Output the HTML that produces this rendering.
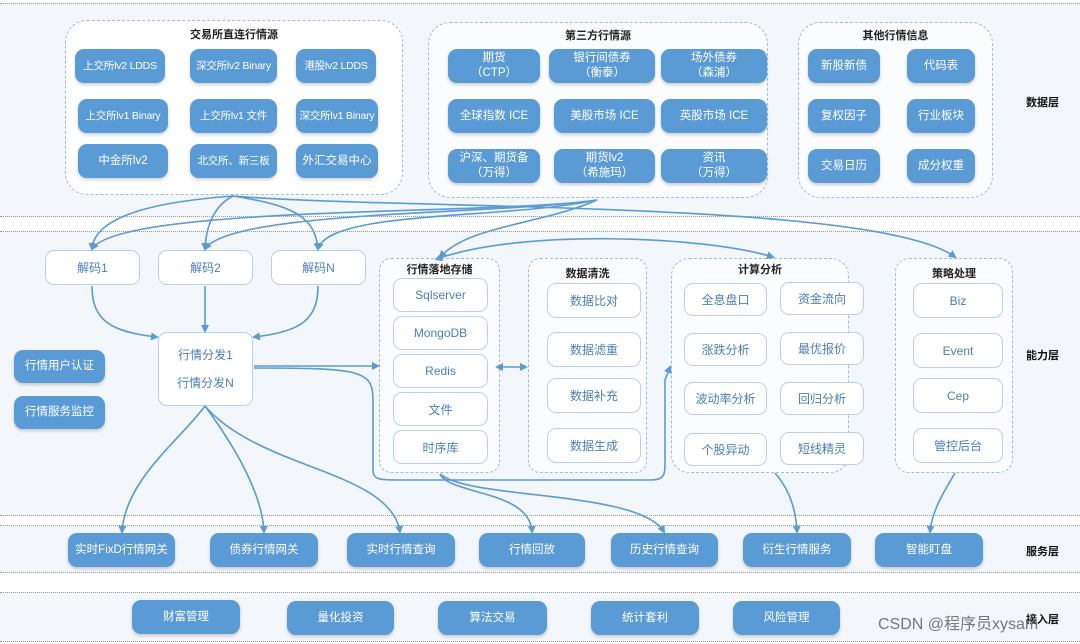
<!DOCTYPE html>
<html><head><meta charset="utf-8"><style>
*{margin:0;padding:0;box-sizing:border-box}
body{width:1080px;height:644px;position:relative;background:#fff;font-family:"Liberation Sans","Noto Sans CJK SC",sans-serif;overflow:hidden}
.band{position:absolute;left:0;width:1080px;background:#f3f6fb;border-top:1px dotted #999;border-bottom:1px dotted #999}
.grp{position:absolute;border:1.5px dashed #9dbbdc;border-radius:22px;background:#fbfcfe}
.gt{position:absolute;left:0;right:0;text-align:center;font-size:11px;font-weight:bold;color:#222}
.b{position:absolute;background:#5b9bd5;color:#fff;border-radius:9px;font-size:11.5px;display:flex;align-items:center;justify-content:center;text-align:center;line-height:15px;box-shadow:0 2px 3px rgba(0,0,0,.18);white-space:nowrap}
.sm{font-size:10.5px;letter-spacing:-0.2px}
.w{position:absolute;background:#fff;color:#4a7fb8;border:1.5px solid #b9d0ea;border-radius:9px;font-size:12px;display:flex;align-items:center;justify-content:center;text-align:center;white-space:nowrap}
.lab{position:absolute;font-size:11px;font-weight:bold;color:#111}
svg{position:absolute;left:0;top:0}
</style></head><body>
<div class="band" style="top:3px;height:214px"></div>
<div class="band" style="top:231px;height:285px"></div>
<div class="band" style="top:525px;height:48px"></div>
<div class="band" style="top:592px;height:50px"></div>
<div class="lab" style="left:1026px;top:94px">数据层</div>
<div class="lab" style="left:1026px;top:347px">能力层</div>
<div class="lab" style="left:1026px;top:543px">服务层</div>
<div class="lab" style="left:1026px;top:611px">接入层</div>

<div class="grp" style="left:65px;top:20px;width:338px;height:175px;background:#fff"><div class="gt" style="top:5px">交易所直连行情源</div></div>
<div class="grp" style="left:428px;top:22px;width:340px;height:176px"><div class="gt" style="top:4px">第三方行情源</div></div>
<div class="grp" style="left:798px;top:22px;width:195px;height:176px"><div class="gt" style="top:4px">其他行情信息</div></div>

<div class="b sm" style="left:75px;top:49px;width:90px;height:34px">上交所lv2 LDDS</div>
<div class="b sm" style="left:190px;top:49px;width:87px;height:34px">深交所lv2 Binary</div>
<div class="b sm" style="left:296px;top:49px;width:80px;height:34px">港股lv2 LDDS</div>
<div class="b sm" style="left:78px;top:99px;width:90px;height:34px">上交所lv1 Binary</div>
<div class="b sm" style="left:190px;top:99px;width:87px;height:34px">上交所lv1 文件</div>
<div class="b sm" style="left:296px;top:99px;width:82px;height:34px">深交所lv1 Binary</div>
<div class="b" style="left:78px;top:144px;width:90px;height:34px">中金所lv2</div>
<div class="b sm" style="left:190px;top:144px;width:87px;height:34px">北交所、新三板</div>
<div class="b" style="left:296px;top:144px;width:82px;height:34px">外汇交易中心</div>

<div class="b" style="left:448px;top:49px;width:92px;height:34px">期货<br>（CTP）</div>
<div class="b" style="left:549px;top:49px;width:106px;height:34px">银行间债券<br>（衡泰）</div>
<div class="b" style="left:661px;top:49px;width:106px;height:34px">场外债券<br>（森浦）</div>
<div class="b" style="left:448px;top:99px;width:92px;height:34px">全球指数 ICE</div>
<div class="b" style="left:554px;top:99px;width:101px;height:34px">美股市场 ICE</div>
<div class="b" style="left:661px;top:99px;width:106px;height:34px">英股市场 ICE</div>
<div class="b" style="left:448px;top:149px;width:92px;height:34px">沪深、期货备<br>（万得）</div>
<div class="b" style="left:554px;top:149px;width:101px;height:34px">期货lv2<br>（希施玛）</div>
<div class="b" style="left:661px;top:149px;width:106px;height:34px">资讯<br>（万得）</div>

<div class="b" style="left:808px;top:49px;width:72px;height:34px">新股新债</div>
<div class="b" style="left:907px;top:49px;width:68px;height:34px">代码表</div>
<div class="b" style="left:808px;top:99px;width:72px;height:34px">复权因子</div>
<div class="b" style="left:907px;top:99px;width:68px;height:34px">行业板块</div>
<div class="b" style="left:808px;top:149px;width:72px;height:34px">交易日历</div>
<div class="b" style="left:907px;top:149px;width:68px;height:34px">成分权重</div>

<div class="w" style="left:45px;top:250px;width:95px;height:35px">解码1</div>
<div class="w" style="left:158px;top:250px;width:95px;height:35px">解码2</div>
<div class="w" style="left:271px;top:250px;width:95px;height:35px">解码N</div>
<div class="w" style="left:158px;top:332px;width:95px;height:74px;flex-direction:column;line-height:28px">行情分发1<br>行情分发N</div>
<div class="b" style="left:14px;top:350px;width:91px;height:33px">行情用户认证</div>
<div class="b" style="left:14px;top:396px;width:91px;height:33px">行情服务监控</div>

<div class="grp" style="left:379px;top:258px;width:121px;height:215px;border-radius:12px"><div class="gt" style="top:2px">行情落地存储</div></div>
<div class="grp" style="left:528px;top:258px;width:119px;height:215px;border-radius:12px"><div class="gt" style="top:6px">数据清洗</div></div>
<div class="grp" style="left:671px;top:258px;width:178px;height:215px;border-radius:18px"><div class="gt" style="top:2px">计算分析</div></div>
<div class="grp" style="left:895px;top:258px;width:118px;height:215px;border-radius:14px"><div class="gt" style="top:6px">策略处理</div></div>

<div class="w" style="left:393px;top:278px;width:95px;height:34px">Sqlserver</div>
<div class="w" style="left:393px;top:316px;width:95px;height:34px">MongoDB</div>
<div class="w" style="left:393px;top:354px;width:95px;height:34px">Redis</div>
<div class="w" style="left:393px;top:392px;width:95px;height:34px">文件</div>
<div class="w" style="left:393px;top:430px;width:95px;height:34px">时序库</div>

<div class="w" style="left:547px;top:283px;width:94px;height:35px">数据比对</div>
<div class="w" style="left:547px;top:332px;width:94px;height:35px">数据滤重</div>
<div class="w" style="left:547px;top:378px;width:94px;height:35px">数据补充</div>
<div class="w" style="left:547px;top:428px;width:94px;height:35px">数据生成</div>

<div class="w" style="left:684px;top:283px;width:83px;height:33px">全息盘口</div>
<div class="w" style="left:780px;top:282px;width:84px;height:33px">资金流向</div>
<div class="w" style="left:684px;top:333px;width:83px;height:33px">涨跌分析</div>
<div class="w" style="left:780px;top:332px;width:84px;height:33px">最优报价</div>
<div class="w" style="left:684px;top:382px;width:83px;height:33px">波动率分析</div>
<div class="w" style="left:780px;top:382px;width:84px;height:33px">回归分析</div>
<div class="w" style="left:684px;top:433px;width:83px;height:33px">个股异动</div>
<div class="w" style="left:780px;top:432px;width:84px;height:33px">短线精灵</div>

<div class="w" style="left:913px;top:283px;width:90px;height:35px">Biz</div>
<div class="w" style="left:913px;top:333px;width:90px;height:35px">Event</div>
<div class="w" style="left:913px;top:378px;width:90px;height:35px">Cep</div>
<div class="w" style="left:913px;top:428px;width:90px;height:35px">管控后台</div>

<div class="b" style="left:68px;top:533px;width:107px;height:34px">实时FixD行情网关</div>
<div class="b" style="left:210px;top:533px;width:108px;height:34px">债券行情网关</div>
<div class="b" style="left:347px;top:533px;width:108px;height:34px">实时行情查询</div>
<div class="b" style="left:479px;top:533px;width:106px;height:34px">行情回放</div>
<div class="b" style="left:611px;top:533px;width:107px;height:34px">历史行情查询</div>
<div class="b" style="left:743px;top:533px;width:108px;height:34px">衍生行情服务</div>
<div class="b" style="left:875px;top:533px;width:108px;height:34px">智能盯盘</div>

<div class="b" style="left:132px;top:600px;width:108px;height:34px">财富管理</div>
<div class="b" style="left:287px;top:601px;width:107px;height:34px">量化投资</div>
<div class="b" style="left:438px;top:601px;width:109px;height:34px">算法交易</div>
<div class="b" style="left:591px;top:601px;width:108px;height:34px">统计套利</div>
<div class="b" style="left:733px;top:601px;width:107px;height:34px">风险管理</div>
<div style="position:absolute;left:878px;top:610px;font-size:16px;color:#777">CSDN @程序员xysam</div>

<svg width="1080" height="644" viewBox="0 0 1080 644">
<defs><marker id="a" markerWidth="8" markerHeight="8" refX="6" refY="4" orient="auto" markerUnits="userSpaceOnUse"><path d="M0,0 L8,4 L0,8 z" fill="#5b9bd5"/></marker>
<marker id="s" markerWidth="8" markerHeight="8" refX="2" refY="4" orient="auto-start-reverse" markerUnits="userSpaceOnUse"><path d="M0,0 L8,4 L0,8 z" fill="#5b9bd5"/></marker></defs>
<g fill="none" stroke="#5b9bd5" stroke-width="1.6" marker-end="url(#a)">
<path d="M233,196 C180,200 95,210 92,249"/>
<path d="M233,196 C215,205 206,225 205,249"/>
<path d="M233,196 C290,205 315,215 318,249"/>
<path d="M233,196 C400,210 880,200 955,257"/>
<path d="M597,200 C500,215 120,205 92,249"/>
<path d="M597,200 C500,215 230,210 205,249"/>
<path d="M597,200 C500,220 330,210 318,249"/>
<path d="M597,200 C540,225 470,225 440,257"/>
<path d="M440,258 C520,230 700,235 773,257" marker-start="url(#s)"/>
<path d="M92,286 C92,320 110,332 157,337"/>
<path d="M205,286 L205,331"/>
<path d="M318,286 C318,320 300,332 254,337"/>
<path d="M254,366 L378,366"/>
<path d="M501,367 L526,367" marker-start="url(#s)"/>
<path d="M254,368 C360,368 373,370 373,400 L373,470 C373,480 380,480 400,480 L650,480 C665,480 665,475 665,460 L665,380 L670,367"/>
<path d="M205,406 C180,440 125,480 122,532"/>
<path d="M205,406 C230,440 262,490 264,532"/>
<path d="M205,406 C260,470 390,470 400,532"/>
<path d="M440,474 C450,495 530,490 532,532"/>
<path d="M440,474 C470,500 640,490 664,532"/>
<path d="M775,473 C790,490 796,510 797,532"/>
<path d="M955,473 C945,490 932,510 930,532"/>
</g></svg>
</body></html>
